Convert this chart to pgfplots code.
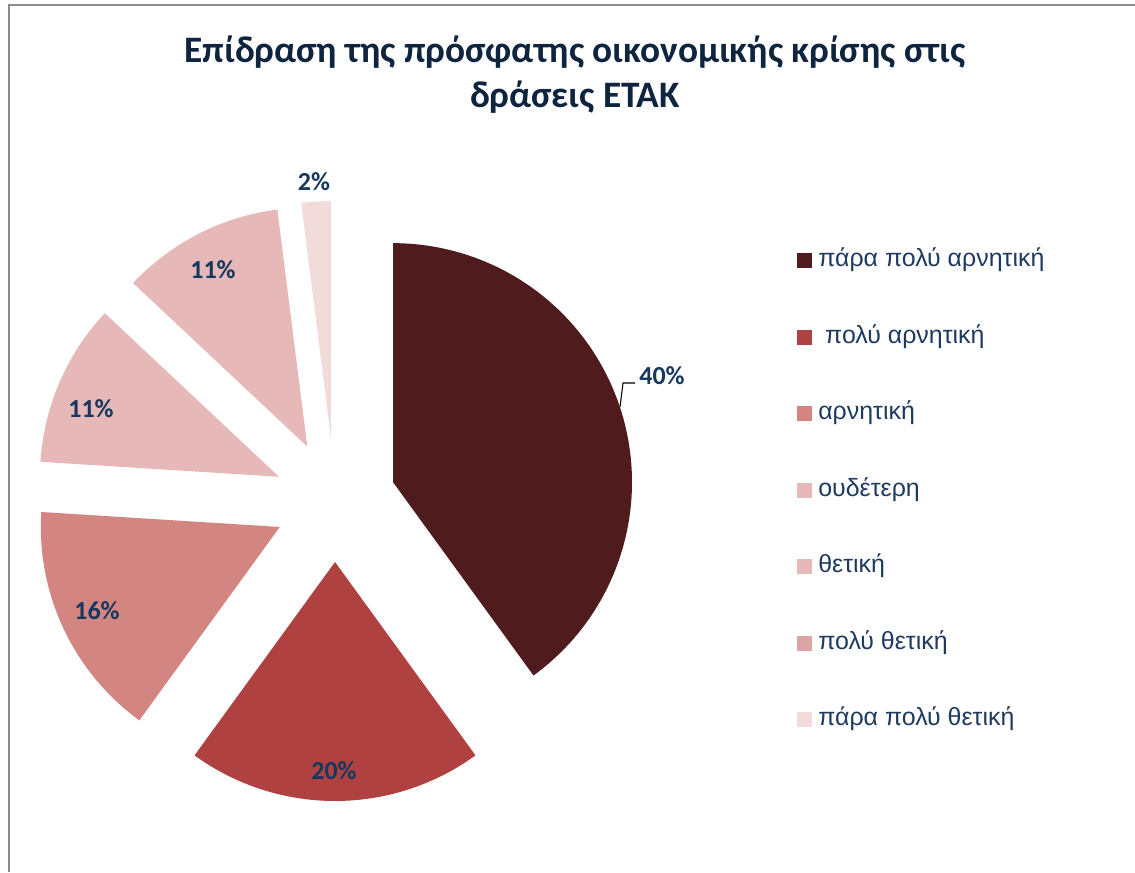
\documentclass[border=0pt]{standalone}
\usepackage{pgfplots}
\pgfplotsset{compat=1.18}
\usepackage{fontspec}
\setmainfont{Carlito}
\newfontfamily\titlefont{Carlito}
\newfontfamily\legendfont{Liberation Sans}
\definecolor{cA}{HTML}{4F1B1C}
\definecolor{cB}{HTML}{AF4240}
\definecolor{cC}{HTML}{D38582}
\definecolor{cD}{HTML}{E6B8B7}
\definecolor{cE}{HTML}{E6B8B7}
\definecolor{cF}{HTML}{D9A6A5}
\definecolor{cG}{HTML}{F2DCDB}
\definecolor{titlecol}{HTML}{0F243E}
\definecolor{labcol}{HTML}{17375E}
\definecolor{legcol}{HTML}{1F3A60}
\definecolor{framecol}{HTML}{8C8C8C}
% slice: start percent, end percent, colour (pie centre 335,371 px; radius 239; explosion 61)
\newcommand{\slice}[3]{%
\addplot[fill=#3, draw=none, domain=#1:#2, samples=90, variable=\t]
 ({335+61*cos(90-1.8*(#1+#2))+239*cos(90-3.6*\t)},
  {371+61*sin(90-1.8*(#1+#2))+239*sin(90-3.6*\t)})
 -- (axis cs:{335+61*cos(90-1.8*(#1+#2))},{371+61*sin(90-1.8*(#1+#2))}) -- cycle;}
\begin{document}
\begin{tikzpicture}
\begin{axis}[
  at={(0,0)}, anchor=south west,
  width=851.25pt, height=654pt, scale only axis,
  xmin=0, xmax=1135, ymin=0, ymax=872,
  hide axis, clip=false,
  legend cell align=left,
  legend image code/.code={\fill[#1] (0pt,-5.6pt) rectangle (11.25pt,5.6pt);},
  legend style={at={(axis cs:797,623)}, anchor=north west, draw=none, fill=none,
    font=\legendfont\fontsize{18.7}{22}\selectfont, text=legcol,
    row sep=40.4pt, inner sep=0pt,
    nodes={inner sep=0pt, text height=13pt, text depth=4pt},
    /tikz/every odd column/.append style={column sep=4.5pt}},
]
% values: 40, 20, 16, 11, 11, 0, 2 (percent), cumulative bounds
\slice{0}{40}{cA}
\addlegendentry{πάρα πολύ αρνητική}
\slice{40}{60}{cB}
\addlegendentry{\ πολύ αρνητική}
\slice{60}{76}{cC}
\addlegendentry{αρνητική}
\slice{76}{87}{cD}
\addlegendentry{ουδέτερη}
\slice{87}{98}{cE}
\addlegendentry{θετική}
\addlegendimage{fill=cF, draw=none}
\addlegendentry{πολύ θετική}
\slice{98}{100}{cG}
\addlegendentry{πάρα πολύ θετική}
% frame
\draw[framecol, line width=1.1pt] (axis cs:9,0) -- (axis cs:9,867) -- (axis cs:1135,867);
% title
\node[align=center, text=titlecol, font=\titlefont\bfseries\fontsize{28}{33.75}\selectfont]
  at (axis cs:575,797) {Επίδραση της πρόσφατης οικονομικής κρίσης στις\\δράσεις ΕΤΑΚ};
% data labels
\begin{scope}[every node/.style={text=labcol, font=\bfseries\fontsize{19.5}{22}\selectfont}]
\node at (axis cs:662,496) {40\%};
\node at (axis cs:334,101) {20\%};
\node at (axis cs:97,261) {16\%};
\node at (axis cs:91,463) {11\%};
\node at (axis cs:213,602) {11\%};
\node at (axis cs:314,690) {2\%};
\end{scope}
\draw[black, line width=0.8pt] (axis cs:620,465) -- (axis cs:623,489) -- (axis cs:635,489);
\end{axis}
\pgfresetboundingbox
\path (current axis.south west) rectangle (current axis.north east);
\end{tikzpicture}
\end{document}
